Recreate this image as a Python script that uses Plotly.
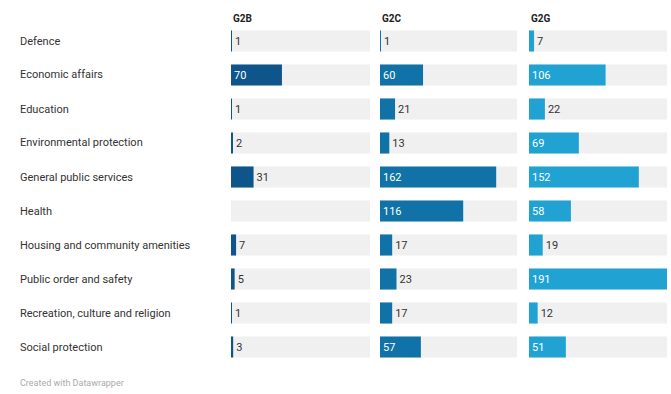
import plotly.graph_objects as go

categories = [
    "Defence",
    "Economic affairs",
    "Education",
    "Environmental protection",
    "General public services",
    "Health",
    "Housing and community amenities",
    "Public order and safety",
    "Recreation, culture and religion",
    "Social protection",
]
g2b = [1, 70, 1, 2, 31, None, 7, 5, 1, 3]
g2c = [1, 60, 21, 13, 162, 116, 17, 23, 17, 57]
g2g = [7, 106, 22, 69, 152, 58, 19, 191, 12, 51]
columns = ["G2B", "G2C", "G2G"]
series = [g2b, g2c, g2g]
colors = ["#0d558a", "#1072a6", "#20a2d3"]

W, H = 671, 394
col_px = [(231, 370), (380, 517), (529, 667)]
row_top, row_h = 24, 34
n = len(categories)
xmax = max(max(v for v in s if v is not None) for s in series)

fig = go.Figure()
font = "Roboto, Arial, sans-serif"

for i, (name, vals, col) in enumerate(zip(columns, series, colors)):
    xa = "x" if i == 0 else f"x{i + 1}"
    # grey track behind each bar
    fig.add_trace(go.Bar(
        x=[xmax] * n, y=categories, orientation="h", xaxis=xa, yaxis="y",
        marker=dict(color="#f0f0f0", line=dict(width=0)), width=0.62,
        hoverinfo="skip", showlegend=False,
    ))
    pos = []
    tcol = []
    for v in vals:
        if v is not None and v >= 40:
            pos.append("inside")
            tcol.append("white")
        else:
            pos.append("outside")
            tcol.append("#333333")
    fig.add_trace(go.Bar(
        x=vals, y=categories, orientation="h", xaxis=xa, yaxis="y",
        marker=dict(color=col, line=dict(width=0)), width=0.62,
        text=[("" if v is None else str(v)) for v in vals],
        textposition=pos, insidetextanchor="start",
        textfont=dict(family=font, size=11, color=tcol),
        cliponaxis=False, name=name, showlegend=False,
    ))

layout = dict(
    width=W, height=H, margin=dict(l=0, r=0, t=0, b=0),
    paper_bgcolor="white", plot_bgcolor="white", barmode="overlay",
    font=dict(family=font, size=11, color="#333333"),
    yaxis=dict(
        domain=[1 - (row_top + n * row_h) / H, 1 - row_top / H],
        range=[n - 0.5, -0.5], showticklabels=False, showgrid=False,
        zeroline=False, fixedrange=True,
    ),
    uniformtext=dict(mode=False),
)
for i, (x0, x1) in enumerate(col_px):
    key = "xaxis" if i == 0 else f"xaxis{i + 1}"
    layout[key] = dict(
        domain=[x0 / W, x1 / W], range=[0, xmax], anchor="y",
        showticklabels=False, showgrid=False, zeroline=False, fixedrange=True,
    )
fig.update_layout(**layout)

annotations = []
for j, c in enumerate(categories):
    annotations.append(dict(
        x=18 / W, y=1 - (row_top + (j + 0.5) * row_h) / H,
        xref="paper", yref="paper", xanchor="left", yanchor="middle",
        text=c, showarrow=False, font=dict(family=font, size=11, color="#333333"),
    ))
for i, (x0, x1) in enumerate(col_px):
    annotations.append(dict(
        x=x0 / W, y=1 - 18 / H, xref="paper", yref="paper",
        xanchor="left", yanchor="middle", text=f"<b>{columns[i]}</b>",
        showarrow=False, font=dict(family=font, size=10, color="#222222"),
    ))
annotations.append(dict(
    x=18 / W, y=1 - 383 / H, xref="paper", yref="paper",
    xanchor="left", yanchor="middle", text="Created with Datawrapper",
    showarrow=False, font=dict(family=font, size=9, color="#aaaaaa"),
))
fig.update_layout(annotations=annotations)

fig.write_html("out.html")
